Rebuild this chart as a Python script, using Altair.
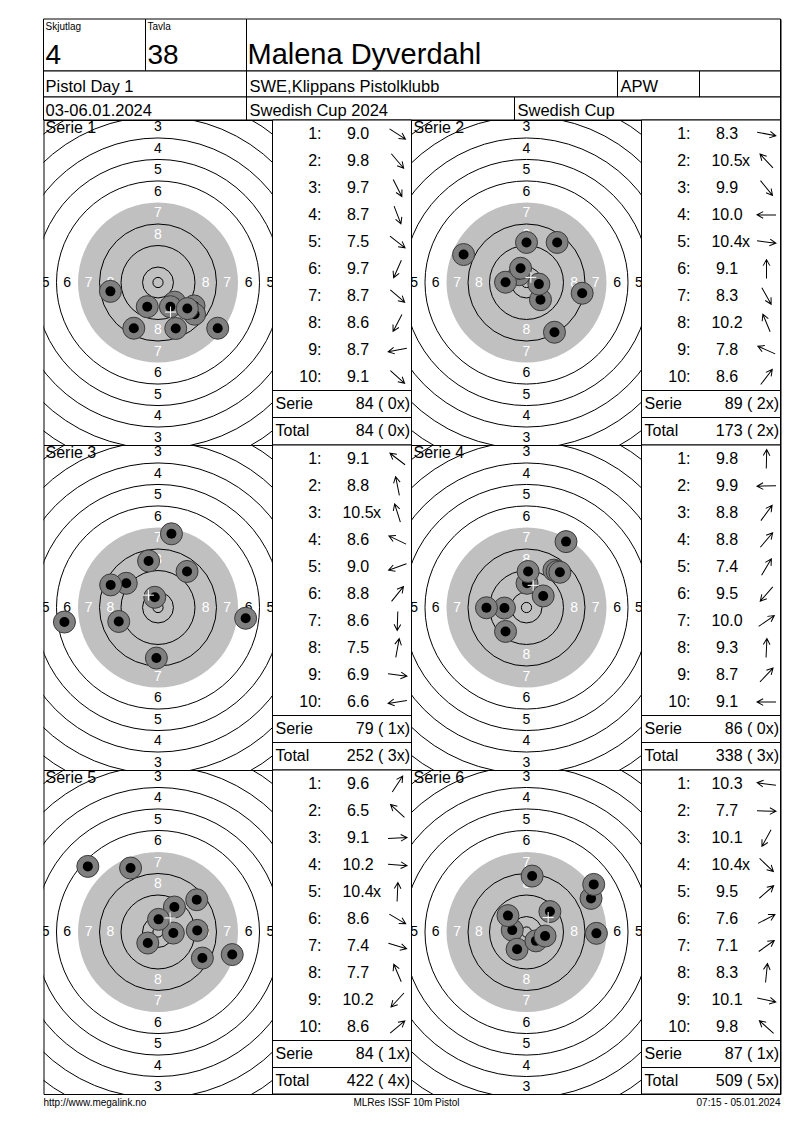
import math
import numpy as np
import pandas as pd
import altair as alt

FONT = "Liberation Sans"

# ---------------- data ----------------
header_captions = ["Skjutlag", "Tavla"]
header_big = ["4", "38", "Malena Dyverdahl"]
info_line1 = ["Pistol Day 1", "SWE,Klippans Pistolklubb", "APW"]
info_line2 = ["03-06.01.2024", "Swedish Cup 2024", "Swedish Cup"]
footer_texts = ["http://www.megalink.no", "MLRes ISSF 10m Pistol", "07:15 - 05.01.2024"]

series_titles = ["Serie 1", "Serie 2", "Serie 3", "Serie 4", "Serie 5", "Serie 6"]

shot_scores = [
    ["9.0", "9.8", "9.7", "8.7", "7.5", "9.7", "8.7", "8.6", "8.7", "9.1"],
    ["8.3", "10.5x", "9.9", "10.0", "10.4x", "9.1", "8.3", "10.2", "7.8", "8.6"],
    ["9.1", "8.8", "10.5x", "8.6", "9.0", "8.8", "8.6", "7.5", "6.9", "6.6"],
    ["9.8", "9.9", "8.8", "8.8", "7.4", "9.5", "10.0", "9.3", "8.7", "9.1"],
    ["9.6", "6.5", "9.1", "10.2", "10.4x", "8.6", "7.4", "7.7", "10.2", "8.6"],
    ["10.3", "7.7", "10.1", "10.4x", "9.5", "7.6", "7.1", "8.3", "10.1", "9.8"],
]

# hit positions in mm from the target centre (x right, y up)
shot_x_mm = [
    [13.4, 6.2, 4.6, 6.6, 22.2, -4.0, 13.6, -9.0, -17.7, 10.9],
    [20.7, -2.7, 5.2, -7.8, 4.6, 0.0, 10.4, -2.2, -23.4, 11.4],
    [-11.8, -3.5, -1.2, -17.6, -14.6, 10.8, -0.6, 5.0, 32.6, -34.8],
    [0.2, -8.2, 10.2, 11.4, 14.7, -7.8, 6.2, 0.6, 12.4, -14.9],
    [6.1, -26.1, 14.6, 5.7, 0.2, 16.5, 27.6, -10.2, -3.8, 14.4],
    [-5.3, 26.0, -3.5, 3.5, 8.7, 24.0, 25.0, 2.1, 6.9, -6.9],
]
shot_y_mm = [
    [-8.7, -7.3, -9.0, -17.1, -17.0, -9.0, -11.8, -17.0, -3.3, -9.7],
    [-4.0, 2.9, -6.4, 0.1, -0.6, 14.9, -18.5, 5.3, 10.4, 14.9],
    [9.0, 17.3, 3.8, 8.4, -5.2, 13.4, -18.8, 27.4, -4.0, -5.4],
    [9.0, -0.2, 13.9, 13.4, 24.5, -8.9, 4.3, 13.4, 13.1, -0.1],
    [9.3, 24.4, 0.6, -0.4, 4.7, -9.7, -8.4, 23.8, -4.1, 12.0],
    [0.7, -0.5, -6.4, -3.3, 7.6, 12.5, 17.7, 20.8, -1.5, 6.1],
]

serie_points = [84, 89, 79, 86, 84, 87]
serie_inner = [0, 2, 1, 0, 1, 1]
total_points = [84, 173, 252, 338, 422, 509]
total_inner = [0, 2, 3, 3, 4, 5]

ring_scores = [10, 9, 8, 7, 6, 5, 4, 3, 2, 1]
ring_radius_mm = [5.75, 13.75, 21.75, 29.75, 37.75, 45.75, 53.75, 61.75, 69.75, 77.75]
inner_ten_radius_mm = 1.9
black_from_ring = 7

# ---------------- layout / style ----------------
PX_PER_MM = 80 / 29.75
W = 737
PANEL_LEFT = [0, 229, 368, 598]     # target, table, target, table
PANEL_W = [229, 139, 230, 139]
ROW_H = [325, 325, 324]
HDR_H = 101
ROW_TOP, ROW_STEP = 14, 27
GREY = "#c0c0c0"
SHOT_FILL = "#808080"
SHOT_EDGE = "#3a3a3a"
ARROW = "M-1,0L1,0M0.35,-0.35L1,0L0.35,0.35"
CROSS = "M-1,0L1,0M0,-1L0,1"

HEADER_CELLS = [
    (0, 102, 0, 52), (102, 203, 0, 52), (203, 737, 0, 52),
    (0, 203, 52, 78), (203, 574, 52, 78), (574, 656, 52, 78), (656, 737, 52, 78),
    (0, 203, 78, 101), (203, 471, 78, 101), (471, 737, 78, 101),
]


def target_layers(k, left, w, h):
    cpx = left + w / 2
    xs = alt.Scale(domain=[-cpx / PX_PER_MM, (W - cpx) / PX_PER_MM], nice=False, zero=False)
    ys = alt.Scale(domain=[-h / 2 / PX_PER_MM, h / 2 / PX_PER_MM], nice=False, zero=False)
    cx = alt.X("cx:Q", scale=xs, axis=None)
    cy = alt.Y("cy:Q", scale=ys, axis=None)

    disc_r = ring_radius_mm[ring_scores.index(black_from_ring)]
    ddf = pd.DataFrame({"cx": [0.0], "cy": [0.0], "r": [disc_r]})
    ddf["sz"] = (2 * ddf["r"] * PX_PER_MM) ** 2
    disc = alt.Chart(ddf).mark_point(
        shape="circle", filled=True, fill=GREY, strokeWidth=0, opacity=1, clip=True
    ).encode(x=cx, y=cy, size=alt.Size("sz:Q", scale=None))

    line_r = [inner_ten_radius_mm] + [
        r for s, r in zip(ring_scores, ring_radius_mm) if s != black_from_ring
    ]
    rdf = pd.DataFrame({"cx": 0.0, "cy": 0.0, "r": line_r})
    rdf["sz"] = (2 * rdf["r"] * PX_PER_MM) ** 2
    rings = alt.Chart(rdf).mark_point(
        shape="circle", filled=False, stroke="black", strokeWidth=1, opacity=1, clip=True
    ).encode(x=cx, y=cy, size=alt.Size("sz:Q", scale=None))

    rows = []
    for s, r in zip(ring_scores, ring_radius_mm):
        if s > 8 or s < 2:
            continue
        rl = r - 4.0
        col = "white" if s >= black_from_ring else "black"
        for dx, dy in [(0, 1), (0, -1), (1, 0), (-1, 0)]:
            rows.append({"x": dx * rl, "y": dy * rl, "t": str(s), "c": col})
    labels = alt.Chart(pd.DataFrame(rows)).mark_text(
        font=FONT, fontSize=14, align="center", baseline="middle", clip=True
    ).encode(
        x=alt.X("x:Q", scale=xs, axis=None),
        y=alt.Y("y:Q", scale=ys, axis=None),
        text="t:N",
        color=alt.Color("c:N", scale=None),
    )

    title = alt.Chart(pd.DataFrame({"t": [series_titles[k]]})).mark_text(
        font=FONT, fontSize=16, align="left", baseline="top", color="black"
    ).encode(x=alt.value(left + 2), y=alt.value(0), text="t:N")

    sdf = pd.DataFrame({"shot": list(range(10)), "x": shot_x_mm[k], "y": shot_y_mm[k]})
    layers = [disc, rings, labels, title]
    for n in range(10):
        b = alt.Chart(sdf).transform_filter(alt.datum.shot == n)
        enc = dict(x=alt.X("x:Q", scale=xs, axis=None), y=alt.Y("y:Q", scale=ys, axis=None))
        layers.append(b.mark_point(
            shape="circle", filled=True, fill=SHOT_FILL, stroke=SHOT_EDGE,
            strokeWidth=1, size=484, opacity=1, clip=True).encode(**enc))
        layers.append(b.mark_point(
            shape="circle", filled=True, fill="black", strokeWidth=0,
            size=100, opacity=1, clip=True).encode(**enc))
    cross = alt.Chart(sdf).transform_aggregate(
        mx="mean(x)", my="mean(y)"
    ).mark_point(
        shape=CROSS, filled=False, stroke="white", strokeWidth=1, size=121, opacity=1
    ).encode(x=alt.X("mx:Q", scale=xs, axis=None), y=alt.Y("my:Q", scale=ys, axis=None))
    layers.append(cross)
    return layers


def table_layers(k, left, w, h):
    ys = alt.Scale(domain=[-ROW_TOP / ROW_STEP, (h - ROW_TOP) / ROW_STEP],
                   reverse=True, nice=False, zero=False)
    scores = shot_scores[k]
    ang = (np.degrees(np.arctan2(-np.array(shot_y_mm[k]), np.array(shot_x_mm[k]))) + 360) % 360
    tdf = pd.DataFrame({
        "row": list(range(10)),
        "num": [f"{i + 1}:" for i in range(10)],
        "val": [s.rstrip("x") for s in scores],
        "xm": ["x" if s.endswith("x") else "" for s in scores],
        "ang": [float(a) for a in ang],
    })
    yenc = alt.Y("row:Q", scale=ys, axis=None)

    bg = alt.Chart(pd.DataFrame({"row": [0]})).mark_rect(
        fill="white", stroke="black", strokeWidth=1
    ).encode(x=alt.value(left), x2=alt.value(left + w), y=alt.value(0), y2=alt.value(h))

    base = alt.Chart(tdf)
    txt = dict(font=FONT, fontSize=16, baseline="middle", color="black")
    nums = base.mark_text(align="right", **txt).encode(x=alt.value(left + 49), y=yenc, text="num:N")
    vals = base.mark_text(align="center", **txt).encode(x=alt.value(left + 85.5), y=yenc, text="val:N")
    xms = base.mark_text(align="left", **txt).encode(x=alt.value(left + 100.5), y=yenc, text="xm:N")
    arrows = base.mark_point(
        shape=ARROW, filled=False, stroke="black", strokeWidth=1, size=361, opacity=1
    ).encode(x=alt.value(left + 125), y=yenc, angle=alt.Angle("ang:Q", scale=None))

    sums = alt.Chart(pd.DataFrame({
        "row": [10, 11],
        "lab": ["Serie", "Total"],
        "v": [f"{serie_points[k]} ( {serie_inner[k]}x)", f"{total_points[k]} ( {total_inner[k]}x)"],
    }))
    slab = sums.mark_text(align="left", **txt).encode(x=alt.value(left + 3), y=yenc, text="lab:N")
    sval = sums.mark_text(align="right", **txt).encode(x=alt.value(left + w - 1.5), y=yenc, text="v:N")

    seps = alt.Chart(pd.DataFrame({"row": [9.5, 10.5]})).mark_rule(
        color="black", strokeWidth=1
    ).encode(y=yenc, x=alt.value(left), x2=alt.value(left + w))
    return [bg, seps, nums, vals, xms, arrows, slab, sval]


def row_chart(r):
    h = ROW_H[r]
    layers = []
    layers += target_layers(2 * r, PANEL_LEFT[0], PANEL_W[0], h)
    layers += target_layers(2 * r + 1, PANEL_LEFT[2], PANEL_W[2], h)
    layers += table_layers(2 * r, PANEL_LEFT[1], PANEL_W[1], h)
    layers += table_layers(2 * r + 1, PANEL_LEFT[3], PANEL_W[3], h)
    return alt.layer(*layers).resolve_scale(x="independent", y="independent").properties(
        width=W, height=h
    )


# ---------------- header ----------------
hx = alt.Scale(domain=[0, W], nice=False, zero=False)
hy = alt.Scale(domain=[0, HDR_H], reverse=True, nice=False, zero=False)
cells = pd.DataFrame(HEADER_CELLS, columns=["x0", "x1", "y0", "y1"])
rects = alt.Chart(cells).mark_rect(fill="white", stroke="black", strokeWidth=1).encode(
    x=alt.X("x0:Q", scale=hx, axis=None), x2="x1:Q",
    y=alt.Y("y0:Q", scale=hy, axis=None), y2="y1:Q",
)
htxt_rows = []
for t, xp in zip(header_captions, [2, 104]):
    htxt_rows.append({"x": xp, "y": 10.5, "t": t, "fs": 10})
for t, xp, fs in zip(header_big, [2, 104, 204], [28, 28, 29]):
    htxt_rows.append({"x": xp, "y": 44.5, "t": t, "fs": fs})
for t, xp in zip(info_line1, [2, 206, 577]):
    htxt_rows.append({"x": xp, "y": 73, "t": t, "fs": 16.5})
for t, xp in zip(info_line2, [2, 206, 474]):
    htxt_rows.append({"x": xp, "y": 96.5, "t": t, "fs": 16.5})
htxt = alt.Chart(pd.DataFrame(htxt_rows)).mark_text(
    align="left", baseline="alphabetic", font=FONT, color="black"
).encode(
    x=alt.X("x:Q", scale=hx, axis=None),
    y=alt.Y("y:Q", scale=hy, axis=None),
    text="t:N",
    size=alt.Size("fs:Q", scale=None),
)
header = alt.layer(rects, htxt).properties(width=W, height=HDR_H)

# ---------------- footer ----------------
def foot(t, xp, al):
    return alt.Chart(pd.DataFrame({"t": [t]})).mark_text(
        align=al, baseline="middle", font=FONT, fontSize=10, color="black"
    ).encode(x=alt.value(xp), y=alt.value(9), text="t:N")

footer = alt.layer(
    foot(footer_texts[0], 0, "left"),
    foot(footer_texts[1], 363, "center"),
    foot(footer_texts[2], W, "right"),
).properties(width=W, height=20, view=alt.ViewBackground(stroke="transparent"))

# ---------------- assemble ----------------
chart = alt.vconcat(
    header, row_chart(0), row_chart(1), row_chart(2), footer,
    spacing=0, bounds="flush",
).properties(
    padding={"left": 34.5, "top": 10, "right": 4, "bottom": 4}
).configure(font=FONT).configure_view(stroke="black", strokeWidth=1)

chart.save("out.html", embed_options={"renderer": "svg", "actions": False})
